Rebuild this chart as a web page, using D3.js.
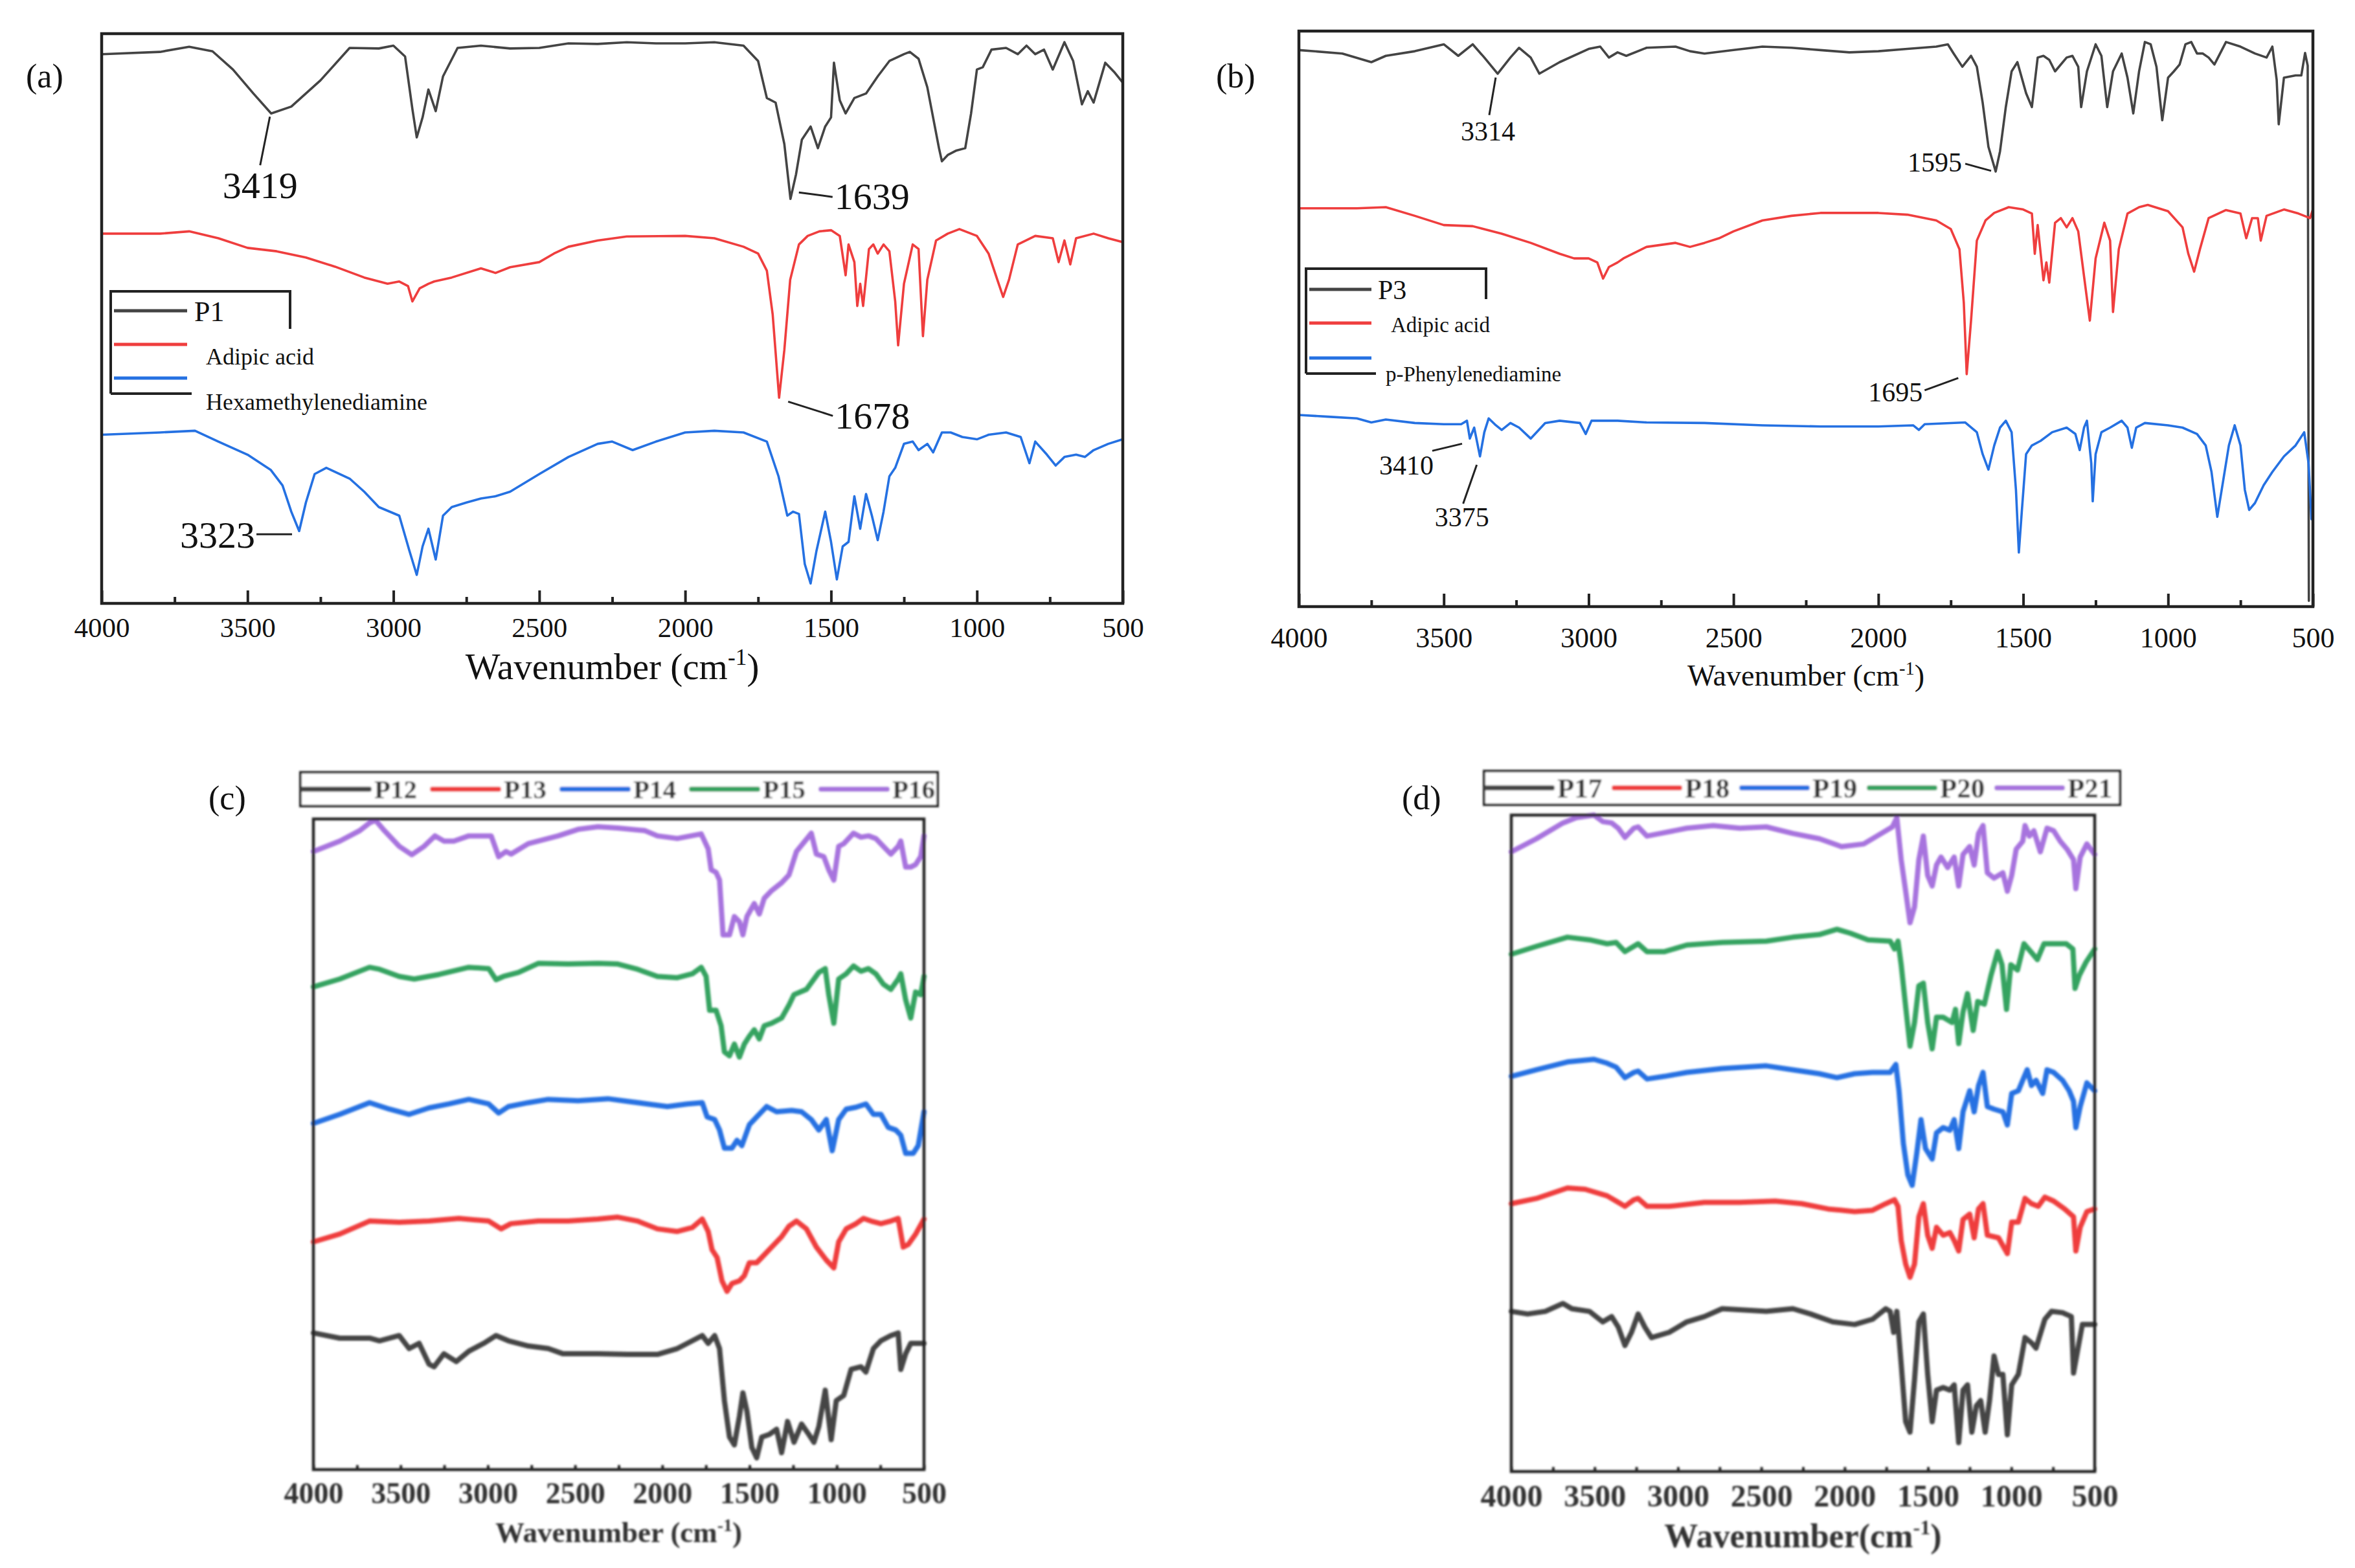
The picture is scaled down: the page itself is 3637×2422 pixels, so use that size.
<!DOCTYPE html>
<html>
<head>
<meta charset="utf-8">
<script src="https://cdn.jsdelivr.net/npm/d3@7"></script>
<style>
  body { margin: 0; background: #fff; }
  svg { display: block; }
</style>
</head>
<body>
<div id="chart"></div>
<script>
// ---- data: [wavenumber (cm-1), offset transmittance (a.u.)] ----
const majorTicks = [4000, 3500, 3000, 2500, 2000, 1500, 1000, 500];
const minorTicks = [3750, 3250, 2750, 2250, 1750, 1250, 750];

// panel (a)
const p1 = [[4000,96.4],[3800,96.8],[3700,97.7],[3620,96.9],[3550,93.7],[3480,89.5],[3419,86.0],[3350,87.2],[3250,91.8],[3150,97.5],[3050,97.4],[3000,97.9],[2960,96.0],[2935,86.8],[2920,81.8],[2900,85.3],[2880,90.2],[2855,86.4],[2830,92.5],[2780,97.5],[2700,97.9],[2600,97.4],[2500,97.5],[2400,98.3],[2300,98.2],[2200,98.5],[2100,98.3],[2000,98.3],[1900,98.5],[1800,97.9],[1750,95.2],[1720,88.7],[1690,87.9],[1660,80.6],[1639,71.0],[1620,75.3],[1600,81.4],[1570,83.7],[1545,79.9],[1520,83.7],[1500,85.3],[1490,94.9],[1470,88.3],[1450,86.0],[1420,88.7],[1380,89.5],[1340,92.5],[1300,95.2],[1250,96.4],[1230,96.8],[1200,95.6],[1170,90.6],[1130,79.9],[1120,77.6],[1100,78.7],[1070,79.5],[1040,79.9],[1020,86.0],[1000,93.7],[980,94.1],[950,97.2],[900,97.5],[860,96.4],[830,97.9],[800,96.4],[770,97.2],[740,93.7],[700,98.5],[670,95.2],[640,87.6],[620,89.9],[600,87.9],[560,94.9],[530,93.3],[500,91.4]];
const adipicA = [[4000,64.9],[3800,64.9],[3700,65.3],[3600,64.1],[3500,62.4],[3400,61.8],[3300,60.7],[3200,59.1],[3100,57.2],[3020,56.1],[2980,56.5],[2950,55.7],[2935,53.0],[2910,55.3],[2880,56.1],[2860,56.5],[2800,57.2],[2700,58.8],[2650,58.0],[2600,59.0],[2500,59.9],[2450,61.4],[2400,62.6],[2300,63.7],[2200,64.4],[2000,64.5],[1900,64.1],[1800,62.6],[1750,61.4],[1720,58.4],[1700,50.7],[1678,36.1],[1660,44.5],[1640,56.8],[1610,63.0],[1580,64.5],[1540,65.3],[1500,65.5],[1470,64.5],[1450,57.6],[1440,63.0],[1420,59.9],[1410,52.2],[1400,56.1],[1390,52.2],[1370,62.2],[1355,63.0],[1340,61.4],[1320,63.0],[1300,61.8],[1280,53.0],[1270,45.3],[1250,56.1],[1220,63.0],[1200,62.2],[1185,46.9],[1170,56.8],[1140,63.7],[1100,64.9],[1060,65.7],[1000,64.5],[960,61.4],[930,56.8],[910,53.8],[890,56.8],[860,63.0],[800,64.5],[740,64.1],[720,59.9],[700,63.7],[680,59.5],[660,64.1],[600,64.9],[550,64.1],[500,63.4]];
const hmda = [[4000,29.6],[3800,30.0],[3680,30.3],[3600,28.4],[3500,26.1],[3420,23.4],[3380,20.7],[3350,16.1],[3323,12.7],[3300,17.7],[3270,22.7],[3230,23.8],[3150,21.9],[3100,19.6],[3050,16.9],[2980,15.4],[2945,9.2],[2920,5.0],[2900,10.0],[2880,13.1],[2855,7.7],[2830,15.4],[2800,16.9],[2750,17.7],[2700,18.4],[2650,18.8],[2600,19.6],[2500,22.7],[2400,25.7],[2300,28.0],[2250,28.4],[2180,26.9],[2100,28.4],[2000,30.0],[1900,30.3],[1800,30.0],[1720,28.4],[1680,22.3],[1650,15.4],[1630,16.1],[1610,15.7],[1590,6.9],[1570,3.5],[1550,9.2],[1520,16.1],[1500,10.8],[1480,4.2],[1460,10.0],[1440,10.8],[1420,18.8],[1400,13.1],[1380,19.2],[1360,15.4],[1340,11.1],[1320,16.1],[1300,22.3],[1280,23.8],[1250,28.0],[1220,28.4],[1200,26.9],[1170,28.0],[1150,26.5],[1120,30.0],[1090,30.0],[1050,29.2],[1000,28.8],[960,29.6],[900,30.0],[850,29.2],[820,24.6],[800,28.4],[760,26.1],[730,24.2],[700,25.7],[660,26.1],[630,25.7],[600,26.9],[550,28.0],[500,28.8]];

// panel (b)
const p3 = [[4000,96.7],[3850,96.1],[3750,94.6],[3700,95.7],[3600,96.5],[3500,97.7],[3450,95.7],[3400,97.7],[3360,95.4],[3314,92.6],[3270,95.4],[3240,97.1],[3200,95.4],[3170,92.6],[3100,94.6],[3000,96.9],[2960,97.3],[2930,95.4],[2900,96.3],[2870,95.7],[2800,97.1],[2700,97.3],[2650,96.5],[2600,96.1],[2500,96.7],[2400,97.3],[2300,97.1],[2200,96.7],[2100,96.3],[2000,96.5],[1900,96.9],[1800,97.3],[1760,97.7],[1740,96.1],[1710,93.8],[1680,95.7],[1660,93.8],[1640,87.6],[1620,79.9],[1595,75.6],[1580,79.1],[1560,86.8],[1540,93.0],[1520,94.6],[1505,91.9],[1490,89.2],[1470,86.8],[1450,95.4],[1430,95.7],[1410,95.0],[1390,93.0],[1350,95.4],[1330,95.7],[1310,93.8],[1300,86.8],[1280,93.0],[1250,97.7],[1230,95.7],[1210,86.8],[1190,93.0],[1160,96.1],[1140,91.9],[1120,85.7],[1100,93.0],[1080,98.1],[1060,97.7],[1040,93.8],[1020,84.5],[1000,91.9],[980,93.0],[960,94.2],[940,97.7],[920,98.1],[900,96.1],[880,96.1],[860,95.4],[840,94.2],[800,98.1],[750,97.3],[700,96.1],[660,95.4],[640,97.3],[625,91.5],[618,83.8],[600,91.9],[560,92.3],[540,92.3],[527,96.2],[518,94.0],[514,1.0]];
const adipicB = [[4000,69.2],[3800,69.2],[3700,69.4],[3600,67.9],[3500,66.3],[3400,66.1],[3300,64.8],[3200,63.2],[3100,61.3],[3050,60.5],[3000,60.5],[2970,59.8],[2950,57.0],[2930,59.0],[2900,59.8],[2880,60.5],[2800,62.5],[2700,63.2],[2650,62.5],[2600,63.2],[2550,64.0],[2500,65.2],[2400,67.1],[2300,67.9],[2200,68.4],[2000,68.4],[1900,68.1],[1800,67.1],[1750,65.6],[1720,62.1],[1705,52.8],[1695,40.4],[1680,49.7],[1660,63.6],[1630,67.1],[1600,68.4],[1550,69.4],[1500,69.0],[1470,68.3],[1460,61.3],[1450,66.3],[1430,56.7],[1420,59.8],[1410,56.3],[1390,66.7],[1370,67.5],[1350,65.9],[1330,67.5],[1310,65.2],[1290,57.4],[1270,49.7],[1250,60.5],[1220,66.7],[1200,63.6],[1190,51.2],[1170,62.1],[1140,68.3],[1100,69.4],[1070,69.8],[1000,68.7],[950,65.9],[930,61.3],[910,58.2],[890,62.1],[860,67.5],[800,68.9],[750,68.3],[730,64.0],[710,67.5],[690,67.5],[680,63.6],[660,67.9],[600,69.0],[550,68.3],[510,67.5],[500,69.0]];
const ppda = [[4000,33.3],[3900,33.0],[3800,32.7],[3750,32.0],[3700,32.5],[3600,31.9],[3500,31.7],[3440,31.7],[3420,32.3],[3410,29.2],[3395,31.1],[3375,26.1],[3360,30.3],[3345,32.7],[3320,31.5],[3300,30.7],[3270,31.9],[3240,31.1],[3200,29.2],[3150,31.9],[3100,32.3],[3030,31.9],[3010,30.0],[2990,32.3],[2900,32.3],[2800,32.0],[2600,31.9],[2400,31.5],[2200,31.3],[2000,31.3],[1880,31.5],[1860,30.7],[1840,31.7],[1700,32.0],[1660,30.3],[1640,26.5],[1620,23.8],[1600,28.0],[1580,31.1],[1560,32.3],[1540,30.3],[1525,20.3],[1515,9.4],[1505,16.4],[1490,26.5],[1470,28.0],[1440,28.8],[1400,30.3],[1350,31.1],[1320,30.0],[1305,27.2],[1290,31.1],[1280,32.3],[1265,24.9],[1260,18.3],[1250,26.5],[1230,30.3],[1200,31.1],[1160,32.3],[1140,31.1],[1125,27.6],[1110,31.1],[1080,31.9],[1000,31.5],[950,31.1],[900,30.0],[870,28.0],[850,23.4],[830,15.6],[810,21.8],[790,28.0],[770,31.5],[750,28.0],[735,20.3],[720,16.8],[700,18.0],[670,21.1],[640,23.4],[600,26.1],[560,28.0],[530,30.3],[515,24.9],[505,15.2],[500,15.6]];

// panel (c)
const p12 = [[4000,21.0],[3849,20.2],[3678,20.2],[3621,19.8],[3508,20.6],[3451,18.6],[3394,19.4],[3337,16.2],[3308,15.8],[3252,17.8],[3181,16.6],[3109,18.2],[3024,19.4],[2953,20.6],[2882,19.8],[2768,19.0],[2654,18.6],[2569,17.8],[2369,17.8],[2198,17.7],[2028,17.7],[1914,18.6],[1828,19.8],[1771,20.6],[1737,19.4],[1700,20.6],[1672,18.6],[1644,10.6],[1615,5.0],[1587,3.8],[1558,8.2],[1538,11.8],[1515,9.0],[1487,3.4],[1459,1.8],[1430,5.0],[1387,5.4],[1345,6.2],[1316,2.6],[1282,7.4],[1245,4.2],[1202,7.0],[1160,5.4],[1131,4.2],[1103,6.6],[1066,12.2],[1032,4.6],[1003,10.6],[960,11.4],[918,15.4],[861,15.8],[833,15.0],[790,18.6],[747,19.8],[690,20.6],[648,21.0],[633,15.4],[605,17.8],[576,19.4],[533,19.4],[500,19.4]];
const p13 = [[4000,35.0],[3849,36.2],[3678,38.2],[3508,38.0],[3337,38.2],[3166,38.6],[2995,38.2],[2924,37.0],[2868,37.8],[2711,38.2],[2540,38.2],[2369,38.5],[2255,38.8],[2142,38.2],[2028,37.0],[1914,36.6],[1828,37.2],[1771,38.5],[1737,36.6],[1715,33.8],[1686,32.6],[1658,29.0],[1629,27.4],[1601,28.6],[1558,29.0],[1530,29.8],[1501,31.8],[1459,31.8],[1430,32.6],[1373,34.2],[1316,35.8],[1274,37.4],[1231,38.2],[1174,37.0],[1117,34.2],[1060,32.2],[1017,31.0],[989,35.0],[946,37.0],[889,37.8],[847,38.6],[804,38.2],[747,37.8],[690,38.2],[648,38.6],[619,34.2],[590,34.6],[548,36.2],[500,38.5]];
const p14 = [[4000,53.2],[3849,54.6],[3678,56.4],[3564,55.4],[3451,54.6],[3337,55.6],[3223,56.2],[3109,56.9],[2995,56.2],[2938,54.8],[2882,55.8],[2768,56.4],[2654,56.9],[2483,56.7],[2312,57.0],[2198,56.6],[2085,56.2],[1971,55.8],[1857,56.2],[1771,56.4],[1743,54.2],[1700,53.8],[1672,52.2],[1644,49.4],[1601,49.4],[1572,50.6],[1544,49.8],[1501,53.0],[1459,54.2],[1402,55.8],[1345,55.0],[1259,55.2],[1202,55.0],[1146,53.8],[1103,52.2],[1060,53.8],[1026,49.0],[989,53.8],[946,55.4],[889,55.7],[833,56.2],[790,54.6],[747,54.6],[705,52.6],[662,52.2],[633,51.4],[605,48.6],[562,48.6],[533,49.8],[500,55.0]];
const p15 = [[4000,74.2],[3849,75.4],[3678,77.2],[3621,76.9],[3508,75.8],[3422,75.4],[3280,76.1],[3109,77.2],[2995,77.0],[2953,75.3],[2910,75.8],[2825,76.4],[2711,77.8],[2540,77.7],[2369,77.8],[2255,77.7],[2142,76.9],[2028,75.8],[1914,75.6],[1828,76.2],[1777,77.2],[1749,75.8],[1729,70.6],[1692,70.6],[1663,68.2],[1644,64.2],[1615,63.6],[1587,65.4],[1558,63.4],[1530,65.4],[1501,66.6],[1473,67.6],[1444,66.2],[1416,68.2],[1373,68.6],[1316,69.4],[1274,71.4],[1245,73.0],[1174,73.8],[1103,76.4],[1066,77.0],[1046,73.0],[1017,68.6],[989,75.4],[946,76.2],[904,77.4],[861,76.6],[818,77.0],[776,76.2],[733,74.6],[690,73.8],[648,75.4],[633,76.2],[605,72.2],[576,69.4],[548,73.4],[519,73.0],[500,75.8]];
const p16 = [[4000,95.0],[3849,96.6],[3735,98.2],[3678,99.4],[3644,99.8],[3593,98.2],[3508,95.8],[3436,94.5],[3365,95.8],[3303,97.4],[3252,96.6],[3195,96.6],[3109,97.4],[2981,97.4],[2938,94.2],[2896,95.0],[2867,94.6],[2768,96.2],[2597,97.4],[2483,98.4],[2369,98.8],[2255,98.6],[2099,98.2],[2028,97.4],[1914,97.0],[1777,97.7],[1737,95.4],[1720,92.2],[1692,91.8],[1672,90.6],[1652,82.2],[1615,82.2],[1587,85.0],[1558,84.2],[1538,82.2],[1515,85.0],[1473,87.0],[1444,85.4],[1416,87.8],[1373,89.0],[1316,90.2],[1274,91.4],[1231,95.0],[1146,97.8],[1117,94.6],[1074,94.2],[1046,92.2],[1017,90.6],[989,95.8],[960,96.2],[904,97.8],[861,97.2],[818,97.4],[776,97.0],[719,95.4],[690,94.6],[648,95.8],[633,96.6],[605,92.6],[576,92.6],[548,93.0],[519,94.2],[500,97.4]];

// panel (d)
const p17 = [[4000,24.4],[3902,24.0],[3796,24.4],[3690,25.6],[3637,24.8],[3531,24.4],[3451,22.8],[3398,23.6],[3358,22.0],[3318,19.2],[3279,21.2],[3239,24.0],[3199,22.0],[3159,20.4],[3053,21.2],[2947,22.8],[2841,23.6],[2735,24.8],[2602,24.6],[2470,24.4],[2311,24.8],[2205,24.0],[2072,22.8],[1940,22.4],[1833,23.2],[1754,24.8],[1727,24.4],[1706,21.2],[1687,24.4],[1661,16.4],[1634,7.6],[1608,6.0],[1581,14.0],[1555,22.8],[1528,24.0],[1502,14.8],[1475,7.6],[1449,12.4],[1409,12.8],[1369,12.4],[1343,13.2],[1316,4.4],[1290,12.4],[1263,13.2],[1237,6.0],[1210,10.0],[1184,10.8],[1157,6.0],[1131,10.8],[1104,17.6],[1077,14.8],[1051,14.8],[1024,5.6],[998,13.2],[958,14.8],[918,20.4],[879,19.6],[852,18.8],[799,23.2],[759,24.4],[693,24.2],[640,23.6],[627,15.0],[600,18.8],[574,22.4],[500,22.4]];
const p18 = [[4000,40.8],[3849,41.6],[3663,43.2],[3557,43.0],[3425,42.0],[3371,41.2],[3318,40.4],[3265,41.4],[3239,41.6],[3186,40.4],[3053,40.4],[2841,41.0],[2629,41.0],[2417,41.2],[2258,40.8],[2099,40.0],[1940,39.6],[1833,39.8],[1754,40.8],[1701,41.4],[1680,40.4],[1661,35.2],[1634,31.6],[1608,29.6],[1581,31.6],[1555,38.8],[1528,40.8],[1502,36.0],[1475,34.0],[1449,37.2],[1409,36.0],[1369,36.4],[1343,35.2],[1316,33.6],[1290,38.4],[1250,39.2],[1223,35.6],[1197,40.0],[1170,40.8],[1144,36.0],[1077,35.6],[1024,33.2],[998,38.0],[958,38.0],[918,41.6],[879,40.8],[839,40.4],[799,41.8],[746,41.2],[680,40.0],[627,38.8],[613,33.6],[587,37.2],[547,39.6],[500,40.0]];
const p19 = [[4000,60.2],[3849,61.2],[3663,62.4],[3504,62.8],[3425,62.2],[3371,61.6],[3318,60.0],[3265,60.8],[3239,61.0],[3186,59.8],[3080,60.2],[2947,60.8],[2735,61.4],[2470,61.8],[2311,61.2],[2152,60.6],[2046,60.0],[1940,60.6],[1833,60.8],[1727,60.8],[1693,62.0],[1674,58.0],[1648,50.0],[1621,45.2],[1595,43.6],[1568,48.4],[1542,53.6],[1515,49.2],[1475,47.6],[1449,51.6],[1409,52.4],[1369,52.0],[1343,53.6],[1316,49.2],[1290,54.8],[1250,58.0],[1223,54.8],[1197,58.8],[1170,60.8],[1144,55.6],[1104,55.2],[1051,54.8],[1024,52.8],[998,57.6],[958,58.0],[932,59.6],[905,61.2],[879,58.8],[852,59.6],[812,57.6],[786,61.2],[746,60.8],[693,59.6],[653,58.0],[627,56.4],[613,52.4],[587,55.6],[547,59.2],[500,58.0]];
const p20 = [[4000,78.8],[3849,80.0],[3663,81.4],[3531,81.0],[3425,80.4],[3371,80.6],[3318,79.2],[3265,80.0],[3239,80.4],[3186,79.2],[3080,79.2],[2947,80.2],[2735,80.6],[2470,80.8],[2311,81.4],[2152,81.8],[2046,82.6],[1966,82.0],[1860,81.0],[1727,80.8],[1701,79.6],[1680,80.8],[1661,77.2],[1634,70.8],[1608,64.8],[1581,68.4],[1555,74.0],[1528,74.4],[1502,68.4],[1475,64.4],[1449,69.2],[1409,69.2],[1356,68.4],[1335,70.4],[1316,65.2],[1290,70.0],[1263,72.8],[1229,67.2],[1202,71.6],[1162,71.2],[1122,75.6],[1082,79.2],[1056,77.2],[1029,70.4],[1003,77.2],[963,76.4],[924,80.4],[884,79.2],[844,78.0],[804,80.4],[751,80.4],[671,80.4],[631,79.6],[618,73.6],[592,75.6],[552,77.6],[500,79.6]];
const p21 = [[4000,94.4],[3849,96.4],[3690,98.8],[3610,99.6],[3504,100],[3451,99.0],[3398,98.8],[3358,98.0],[3318,96.6],[3265,98.0],[3239,98.2],[3186,96.8],[3106,97.2],[2947,98.0],[2788,98.4],[2629,98.0],[2470,98.2],[2311,97.2],[2152,96.4],[2019,95.2],[1886,95.6],[1780,97.2],[1714,98.2],[1687,99.6],[1661,93.2],[1634,88.4],[1608,83.6],[1581,86.0],[1555,93.2],[1528,96.8],[1502,90.8],[1475,89.2],[1449,92.4],[1422,93.6],[1382,92.0],[1343,93.6],[1316,89.2],[1290,94.0],[1250,95.2],[1223,92.4],[1197,97.2],[1170,98.4],[1144,91.2],[1104,90.4],[1051,91.2],[1024,88.4],[998,90.8],[971,94.8],[932,96.0],[918,98.4],[892,96.8],[865,97.6],[826,94.4],[786,98.0],[746,97.6],[706,96.0],[666,94.8],[627,93.2],[613,88.8],[587,93.6],[547,95.6],[500,94.0]];

// peak labels
const peaksA = [{label:"3419", series:p1, wn:3419}, {label:"1639", series:p1, wn:1639}, {label:"1678", series:adipicA, wn:1678}, {label:"3323", series:hmda, wn:3323}];
const peaksB = [{label:"3314", series:p3, wn:3314}, {label:"1595", series:p3, wn:1595}, {label:"1695", series:adipicB, wn:1695}, {label:"3410", series:ppda, wn:3410}, {label:"3375", series:ppda, wn:3375}];

// ---- styling / layout ----
const W = 3637, H = 2422;
const serif = "'Liberation Serif', 'Times New Roman', serif";
const col = { gray: "#444444", red: "#ef3e3e", blue: "#2571e2", green: "#34a360", purple: "#a773de" };

// leader [dx1,dy1,dx2,dy2] and text [dx,dy,anchor] relative to the peak point, px
const peakLayout = {
  "3419": { lead: [-2, 5, -17, 80], text: [-17, 131, "middle"] },
  "1639": { lead: [13, -10, 65, -3], text: [68, 16, "start"] },
  "1678": { lead: [14, 6, 83, 28], text: [86, 48, "start"] },
  "3323": { lead: [-66, 5, -11, 5], text: [-68, 26, "end"] },
  "3314": { lead: [-3, 6, -13, 64], text: [-15, 103, "middle"] },
  "1595": { lead: [-47, -12, -7, -1], text: [-52, 0, "end"] },
  "1695": { lead: [-65, 25, -13, 6], text: [-68, 42, "end"] },
  "3410": { lead: [-58, 19, -12, 8], text: [-98, 56, "middle"] },
  "3375": { lead: [-5, 13, -26, 73], text: [-28, 108, "middle"] }
};

const svg = d3.select("#chart").append("svg")
  .attr("width", W).attr("height", H)
  .attr("viewBox", `0 0 ${W} ${H}`);
svg.append("rect").attr("width", W).attr("height", H).attr("fill", "#fff");

const defs = svg.append("defs");
defs.append("filter").attr("id", "soft").attr("x", "-5%").attr("y", "-5%").attr("width", "110%").attr("height", "110%")
  .append("feGaussianBlur").attr("stdDeviation", 1.6);

function buildPanel(cfg) {
  const g = svg.append("g");
  if (cfg.blur) g.attr("filter", "url(#soft)");
  const x = d3.scaleLinear().domain([4000, 500]).range([cfg.x0, cfg.x1]);
  const y = d3.scaleLinear().domain([0, 100]).range([cfg.y1, cfg.y0]);

  const line = d3.line().x(d => x(d[0])).y(d => y(d[1]));
  cfg.series.forEach(s => {
    g.append("path")
      .attr("d", line(s.data))
      .attr("fill", "none")
      .attr("stroke", s.color)
      .attr("stroke-width", cfg.lineWidth)
      .attr("stroke-linejoin", "round")
      .attr("stroke-linecap", "round");
  });

  // frame
  g.append("rect")
    .attr("x", cfg.x0).attr("y", cfg.y0)
    .attr("width", cfg.x1 - cfg.x0).attr("height", cfg.y1 - cfg.y0)
    .attr("fill", "none").attr("stroke", "#222").attr("stroke-width", cfg.frameWidth);

  // ticks, pointing inward
  const major = g.append("g").attr("transform", `translate(0,${cfg.y1})`)
    .call(d3.axisBottom(x).tickValues(majorTicks).tickSize(-cfg.tickMajor).tickPadding(cfg.labelPad).tickFormat(d3.format("d")));
  const minor = g.append("g").attr("transform", `translate(0,${cfg.y1})`)
    .call(d3.axisBottom(x).tickValues(minorTicks).tickSize(-cfg.tickMinor).tickFormat(""));
  [major, minor].forEach(a => {
    a.select(".domain").remove();
    a.selectAll("line").attr("stroke", "#222").attr("stroke-width", cfg.tickWidth);
  });
  major.selectAll("text")
    .attr("fill", cfg.textColor)
    .style("font-family", serif)
    .style("font-size", cfg.tickFont + "px")
    .style("font-weight", cfg.bold ? "bold" : "normal");

  // axis title
  const t = g.append("text")
    .attr("x", (cfg.x0 + cfg.x1) / 2).attr("y", cfg.titleY)
    .attr("text-anchor", "middle")
    .attr("fill", cfg.textColor)
    .style("font-family", serif)
    .style("font-size", cfg.titleFont + "px")
    .style("font-weight", cfg.bold ? "bold" : "normal");
  t.append("tspan").text(cfg.titleText);
  t.append("tspan").attr("dy", -cfg.titleFont * 0.38).style("font-size", (cfg.titleFont * 0.62) + "px").text("-1");
  t.append("tspan").attr("dy", cfg.titleFont * 0.38).text(")");

  // panel letter
  svg.append("text")
    .attr("x", cfg.letterX).attr("y", cfg.letterY)
    .style("font-family", serif).style("font-size", cfg.letterFont + "px")
    .attr("fill", "#111")
    .text(cfg.letter);

  return { g, x, y };
}

function peakMarks(p, peaks, fontSize) {
  peaks.forEach(pk => {
    const pt = pk.series.find(d => d[0] === pk.wn);
    const px = p.x(pt[0]), py = p.y(pt[1]);
    const L = peakLayout[pk.label];
    p.g.append("line")
      .attr("x1", px + L.lead[0]).attr("y1", py + L.lead[1])
      .attr("x2", px + L.lead[2]).attr("y2", py + L.lead[3])
      .attr("stroke", "#222").attr("stroke-width", 3);
    p.g.append("text")
      .attr("x", px + L.text[0]).attr("y", py + L.text[1])
      .attr("text-anchor", L.text[2])
      .attr("fill", "#111")
      .style("font-family", serif).style("font-size", fontSize + "px")
      .text(pk.label);
  });
}

// bracket-style legend used in (a) and (b)
function bracketLegend(g, L) {
  const s = "#222";
  g.append("path")
    .attr("d", `M${L.x0},${L.bottom} L${L.x0},${L.top} L${L.right},${L.top} L${L.right},${L.rightDown}`)
    .attr("fill", "none").attr("stroke", s).attr("stroke-width", 4);
  g.append("line").attr("x1", L.x0).attr("x2", L.bottomEnd).attr("y1", L.bottom).attr("y2", L.bottom)
    .attr("stroke", s).attr("stroke-width", 4);
  L.items.forEach(it => {
    g.append("line").attr("x1", L.x0 + 5).attr("x2", L.lineEnd).attr("y1", it.ly).attr("y2", it.ly)
      .attr("stroke", it.color).attr("stroke-width", 5);
    g.append("text").attr("x", it.tx).attr("y", it.ty)
      .attr("fill", "#111")
      .style("font-family", serif).style("font-size", it.size + "px")
      .text(it.name);
  });
}

// boxed horizontal legend used in (c) and (d)
function boxLegend(g, L, names, colors) {
  g.append("rect").attr("x", L.x0).attr("y", L.y0).attr("width", L.x1 - L.x0).attr("height", L.y1 - L.y0)
    .attr("fill", "#fff").attr("stroke", "#222").attr("stroke-width", 4);
  const cy = (L.y0 + L.y1) / 2;
  names.forEach((n, i) => {
    const sx = L.first + i * L.step;
    g.append("line").attr("x1", sx).attr("x2", sx + L.lineLen).attr("y1", cy).attr("y2", cy)
      .attr("stroke", colors[i]).attr("stroke-width", 8).attr("stroke-linecap", "round");
    g.append("text").attr("x", sx + L.lineLen + 8).attr("y", cy + L.font * 0.34)
      .attr("fill", "#333")
      .style("font-family", serif).style("font-size", L.font + "px").style("font-weight", "bold")
      .text(n);
  });
}

// ---------- panel (a) ----------
const pa = buildPanel({
  x0: 157, x1: 1734, y0: 52, y1: 932,
  series: [{ data: p1, color: col.gray }, { data: adipicA, color: col.red }, { data: hmda, color: col.blue }],
  lineWidth: 3.6, frameWidth: 4.5, tickMajor: 20, tickMinor: 10, tickWidth: 4,
  labelPad: 21, tickFont: 43, titleY: 1049, titleFont: 57, titleText: "Wavenumber (cm",
  textColor: "#111", bold: false,
  letter: "(a)", letterX: 40, letterY: 135, letterFont: 52
});
peakMarks(pa, peaksA, 58);
bracketLegend(pa.g, {
  x0: 171, top: 450, right: 448, rightDown: 508, bottom: 608, bottomEnd: 296, lineEnd: 289,
  items: [
    { name: "P1", color: col.gray, ly: 480, tx: 300, ty: 496, size: 44 },
    { name: "Adipic acid", color: col.red, ly: 532, tx: 318, ty: 563, size: 36 },
    { name: "Hexamethylenediamine", color: col.blue, ly: 584, tx: 318, ty: 633, size: 36 }
  ]
});

// ---------- panel (b) ----------
const pb = buildPanel({
  x0: 2006, x1: 3572, y0: 48, y1: 937,
  series: [{ data: p3, color: col.gray }, { data: adipicB, color: col.red }, { data: ppda, color: col.blue }],
  lineWidth: 3.6, frameWidth: 4.5, tickMajor: 20, tickMinor: 10, tickWidth: 4,
  labelPad: 32, tickFont: 44, titleY: 1059, titleFont: 46, titleText: "Wavenumber (cm",
  textColor: "#111", bold: false,
  letter: "(b)", letterX: 1878, letterY: 135, letterFont: 52
});
peakMarks(pb, peaksB, 42);
bracketLegend(pb.g, {
  x0: 2017, top: 415, right: 2295, rightDown: 462, bottom: 577, bottomEnd: 2125, lineEnd: 2118,
  items: [
    { name: "P3", color: col.gray, ly: 447, tx: 2128, ty: 462, size: 42 },
    { name: "Adipic acid", color: col.red, ly: 499, tx: 2148, ty: 513, size: 33 },
    { name: "p-Phenylenediamine", color: col.blue, ly: 553, tx: 2140, ty: 589, size: 33 }
  ]
});

// ---------- panel (c) ----------
const pc = buildPanel({
  x0: 484, x1: 1427, y0: 1265, y1: 2270,
  series: [{ data: p12, color: col.gray }, { data: p13, color: col.red }, { data: p14, color: col.blue },
           { data: p15, color: col.green }, { data: p16, color: col.purple }],
  lineWidth: 8, frameWidth: 4.5, tickMajor: 7, tickMinor: 7, tickWidth: 4,
  labelPad: 19, tickFont: 46, titleY: 2382, titleFont: 45, titleText: "Wavenumber (cm",
  textColor: "#333", bold: true, blur: true,
  letter: "(c)", letterX: 322, letterY: 1250, letterFont: 52
});
boxLegend(pc.g, { x0: 464, x1: 1448, y0: 1193, y1: 1245, first: 468, step: 200, lineLen: 102, font: 41 },
  ["P12", "P13", "P14", "P15", "P16"], [col.gray, col.red, col.blue, col.green, col.purple]);

// ---------- panel (d) ----------
const pd = buildPanel({
  x0: 2334, x1: 3235, y0: 1259, y1: 2273,
  series: [{ data: p17, color: col.gray }, { data: p18, color: col.red }, { data: p19, color: col.blue },
           { data: p20, color: col.green }, { data: p21, color: col.purple }],
  lineWidth: 8, frameWidth: 4.5, tickMajor: 7, tickMinor: 7, tickWidth: 4,
  labelPad: 20, tickFont: 48, titleY: 2390, titleFont: 52, titleText: "Wavenumber(cm",
  textColor: "#333", bold: true, blur: true,
  letter: "(d)", letterX: 2165, letterY: 1250, letterFont: 52
});
boxLegend(pd.g, { x0: 2292, x1: 3274, y0: 1191, y1: 1243, first: 2296, step: 197, lineLen: 101, font: 43 },
  ["P17", "P18", "P19", "P20", "P21"], [col.gray, col.red, col.blue, col.green, col.purple]);
</script>
</body>
</html>
